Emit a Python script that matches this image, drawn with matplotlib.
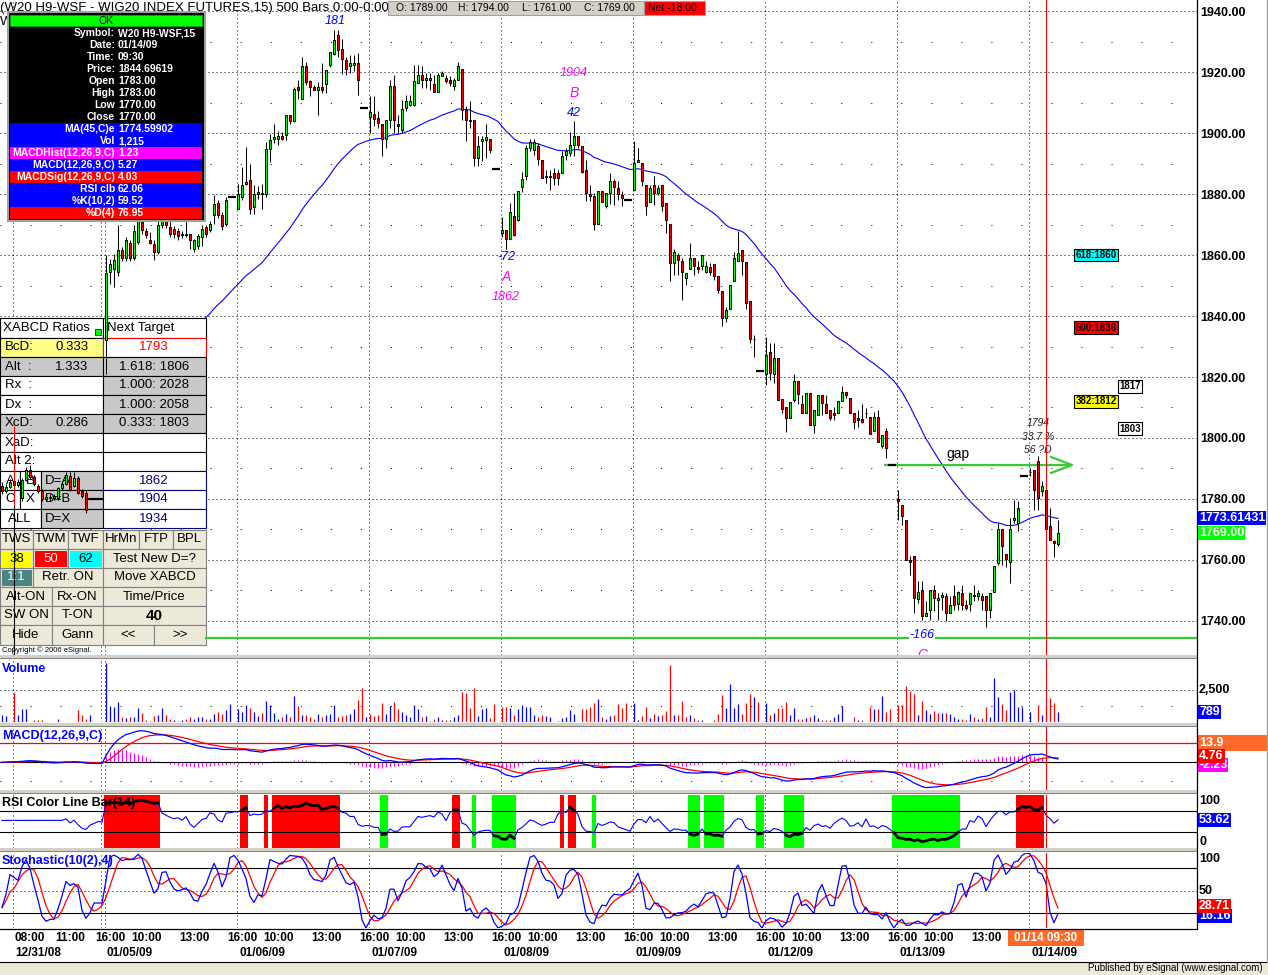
import numpy as np
import pandas as pd
import matplotlib
matplotlib.use("Agg")
import matplotlib.pyplot as plt
from matplotlib.patches import Rectangle
from matplotlib.lines import Line2D
from matplotlib.transforms import Affine2D, blended_transform_factory

plt.rcParams["font.family"] = ["Liberation Sans", "DejaVu Sans"]
plt.rcParams["lines.scale_dashes"] = False
plt.rcParams["axes.unicode_minus"] = False

# 15 minute bars of W20 H9 (WIG20 index futures), 12/31/08 .. 01/14/09
opens = [
    1784.3, 1782.6, 1784.0, 1786.0, 1784.5, 1780.3, 1786.3, 1789.6, 1787.2, 1784.3, 1782.6, 1780.0, 1780.8,
    1780.3, 1780.3, 1783.5, 1784.9, 1787.4, 1784.3, 1787.0, 1782.6, 1782.0, 1780, 1780, 1780, 1780,
    # 01/05
    1832.0, 1854.4, 1855.5, 1854.4, 1861.7, 1859.1, 1863.9, 1859.1, 1864.3, 1870.8, 1868.0, 1864.8, 1863.7,
    1861.0, 1870.0, 1872.0, 1869.2, 1868.6, 1868.0, 1866.4, 1867.0, 1866.8, 1862.1, 1862.8, 1865.9, 1869.2,
    1868.3, 1873.0, 1877.0, 1873.0, 1870.1, 1879, 1879,
    # 01/06
    1875.2, 1879.0, 1883.2, 1884.5, 1875.7, 1879.9, 1880.3, 1880.1, 1894.9, 1898.1, 1898.1, 1898.9, 1899.2,
    1905.8, 1903.9, 1915.1, 1911.3, 1921.9, 1916.9, 1915.1, 1914.2, 1915.1, 1916.2, 1922.2, 1926.0, 1932.0,
    1927.6, 1923.8, 1921.9, 1922.4, 1923.0, 1908.2, 1908.2,
    # 01/07
    1905.2, 1906.3, 1904.9, 1903.0, 1898.0, 1904.4, 1915.3, 1903.0, 1901.1, 1908.2, 1909.3, 1909.3, 1916.4,
    1919.1, 1917.5, 1918.0, 1916.2, 1913.4, 1918.8, 1918.0, 1917.3, 1915.3, 1917.3, 1921.0, 1907.7, 1904.4,
    1904.2, 1891.8, 1897.3, 1897.8, 1898.0, 1888.3, 1888.3,
    # 01/08
    1867.2, 1868.1, 1865.3, 1872.7, 1871.6, 1882.3, 1886.0, 1895.1, 1894.5, 1895.8, 1891.3, 1885.5, 1885.5,
    1886.9, 1886.9, 1886.9, 1892.9, 1893.4, 1896.2, 1898.9, 1895.8, 1888.0, 1880.0, 1879.2, 1870.3, 1881.1,
    1876.2, 1880.3, 1884.2, 1882.0, 1879.6, 1878.1, 1878.1,
    # 01/09
    1881.2, 1890.5, 1890.2, 1883.1, 1877.3, 1883.1, 1880.3, 1883.1, 1877.0, 1870.2, 1857.4, 1860.1, 1858.1,
    1852.5, 1855.4, 1859.0, 1856.1, 1856.3, 1854.3, 1856.0, 1857.0, 1853.2, 1848.3, 1839.3, 1842.3, 1851.4,
    1858.0, 1861.7, 1857.8, 1844.9, 1832.5, 1822.1, 1822.1,
    # 01/12
    1821.0, 1828.1, 1821.0, 1826.1, 1812.8, 1810.0, 1806.4, 1812.5, 1818.8, 1811.1, 1808.3, 1814.9, 1804.3,
    1807.5, 1814.1, 1811.1, 1809.1, 1808.3, 1808.3, 1812.1, 1815.0, 1813.0, 1808.3, 1806.4, 1806.2, 1808.3,
    1807.0, 1802.4, 1807.0, 1797.3, 1802.2, 1791.3, 1791.3,
    # 01/13
    1780.1, 1778.1, 1773.2, 1760.1, 1761.2, 1747.3, 1750.3, 1741.7, 1743.5, 1750.3, 1746.9, 1747.8, 1748.1,
    1742.6, 1748.1, 1745.7, 1749.2, 1745.4, 1745.7, 1748.6, 1748.1, 1748.1, 1748.1, 1743.5, 1749.4, 1759.0,
    1770.2, 1762.1, 1759.2, 1773.0, 1772.1, 1787.4, 1787.4,
    # 01/14
    1789.0, 1789.6, 1792.3, 1782.5, 1783.0, 1771.0, 1766.3, 1765.4,
]
highs = [
    1785.5, 1785.0, 1786.5, 1787.0, 1786.5, 1787.0, 1790.5, 1791.0, 1787.8, 1785.0, 1783.2, 1781.5, 1781.6,
    1781.5, 1784.0, 1785.8, 1789.0, 1788.8, 1789.0, 1787.6, 1783.2, 1782.8, 1780, 1780, 1780, 1780,
    1860.0, 1858.8, 1860.4, 1870.0, 1862.5, 1866.0, 1865.0, 1870.0, 1872.5, 1875.0, 1869.0, 1867.5, 1864.8,
    1871.4, 1874.0, 1874.0, 1871.0, 1869.5, 1869.0, 1868.0, 1871.4, 1867.0, 1865.3, 1867.0, 1869.7, 1870.0,
    1871.0, 1879.6, 1878.0, 1874.0, 1879.0, 1879, 1879,
    1883.4, 1888.9, 1895.4, 1890.0, 1882.8, 1882.6, 1883.4, 1897.0, 1899.8, 1902.8, 1900.8, 1900.3, 1905.8,
    1906.0, 1915.1, 1917.3, 1924.9, 1923.3, 1917.3, 1915.6, 1916.7, 1922.9, 1920.8, 1926.6, 1933.9, 1933.7,
    1930.9, 1924.9, 1925.7, 1925.7, 1926.2, 1908.2, 1908.2,
    1912.0, 1912.0, 1907.1, 1903.0, 1904.4, 1917.5, 1919.1, 1906.0, 1910.9, 1912.6, 1912.6, 1922.4, 1922.4,
    1921.9, 1919.7, 1919.7, 1919.1, 1919.7, 1920.2, 1919.1, 1918.6, 1918.0, 1923.2, 1921.0, 1908.7, 1910.4,
    1904.2, 1898.9, 1898.9, 1903.0, 1898.0, 1888.3, 1888.3,
    1872.4, 1868.1, 1877.1, 1880.3, 1880.9, 1887.1, 1896.2, 1898.1, 1898.1, 1896.7, 1891.3, 1888.0, 1888.0,
    1888.5, 1888.0, 1894.0, 1895.1, 1900.2, 1904.0, 1898.9, 1895.8, 1891.3, 1883.0, 1880.3, 1881.1, 1881.1,
    1880.3, 1886.9, 1884.9, 1884.2, 1880.9, 1878.1, 1878.1,
    1897.3, 1895.1, 1890.2, 1883.1, 1883.1, 1885.8, 1883.1, 1883.1, 1877.0, 1870.2, 1862.1, 1860.7, 1859.0,
    1854.1, 1863.9, 1859.0, 1857.9, 1859.9, 1858.0, 1857.5, 1857.0, 1853.2, 1848.3, 1843.0, 1850.3, 1861.0,
    1868.0, 1861.7, 1857.8, 1844.9, 1833.8, 1822.1, 1822.1,
    1833.2, 1831.3, 1831.0, 1826.1, 1812.8, 1810.0, 1811.9, 1821.0, 1818.8, 1814.1, 1814.9, 1814.9, 1809.1,
    1814.1, 1814.1, 1814.1, 1809.1, 1810.3, 1812.1, 1817.2, 1815.0, 1813.0, 1808.3, 1809.1, 1811.1, 1809.7,
    1807.0, 1808.6, 1809.2, 1801.1, 1803.3, 1791.3, 1791.3,
    1783.1, 1778.1, 1773.2, 1761.2, 1761.2, 1753.0, 1753.0, 1746.4, 1750.3, 1751.9, 1749.2, 1749.4, 1749.2,
    1748.3, 1751.9, 1749.7, 1751.9, 1747.0, 1749.2, 1751.9, 1750.3, 1749.2, 1748.1, 1749.2, 1758.1, 1772.1,
    1770.2, 1762.1, 1773.8, 1779.8, 1779.2, 1787.4, 1787.4,
    1790.0, 1789.6, 1794.0, 1785.8, 1783.0, 1777.0, 1766.7, 1773.2,
]
lows = [
    1781.5, 1782.0, 1783.5, 1783.5, 1783.8, 1779.5, 1785.8, 1786.5, 1784.3, 1782.0, 1779.5, 1779.2, 1779.5,
    1779.8, 1779.8, 1783.0, 1784.5, 1782.5, 1783.8, 1781.6, 1780.4, 1775.5, 1780, 1780, 1780, 1780,
    1821.0, 1850.6, 1849.5, 1853.0, 1858.0, 1858.0, 1858.0, 1858.5, 1863.5, 1867.0, 1865.5, 1863.5, 1858.3,
    1860.4, 1869.0, 1869.0, 1866.0, 1865.5, 1865.0, 1865.5, 1865.9, 1862.1, 1861.0, 1862.0, 1862.8, 1866.0,
    1867.5, 1870.1, 1872.0, 1868.3, 1869.5, 1879, 1879,
    1875.2, 1877.9, 1882.8, 1873.6, 1873.6, 1878.5, 1875.2, 1879.0, 1890.5, 1896.6, 1896.0, 1897.6, 1897.8,
    1903.0, 1903.5, 1911.3, 1911.3, 1915.6, 1912.0, 1914.0, 1905.8, 1913.1, 1913.1, 1921.6, 1925.5, 1925.0,
    1919.5, 1918.9, 1919.7, 1920.2, 1912.6, 1908.2, 1908.2,
    1900.0, 1902.2, 1901.6, 1892.3, 1895.1, 1901.6, 1900.0, 1900.0, 1900.0, 1907.1, 1908.7, 1908.7, 1916.4,
    1914.8, 1914.8, 1914.2, 1913.4, 1913.4, 1918.6, 1916.4, 1915.3, 1914.2, 1917.3, 1904.4, 1897.3, 1901.6,
    1889.3, 1889.3, 1890.7, 1891.8, 1893.4, 1888.3, 1888.3,
    1865.9, 1862.0, 1865.3, 1866.1, 1871.0, 1880.5, 1884.7, 1894.0, 1892.9, 1889.6, 1885.2, 1883.6, 1881.4,
    1883.1, 1883.1, 1886.9, 1891.3, 1892.3, 1892.3, 1895.1, 1886.9, 1877.8, 1877.6, 1868.3, 1870.3, 1877.3,
    1875.4, 1876.8, 1876.5, 1878.1, 1876.2, 1878.1, 1878.1,
    1881.2, 1890.5, 1882.5, 1873.2, 1877.3, 1876.5, 1879.8, 1874.3, 1867.2, 1851.4, 1853.6, 1853.6, 1845.1,
    1850.3, 1855.4, 1853.6, 1854.1, 1855.0, 1854.0, 1853.6, 1851.9, 1847.5, 1836.6, 1838.0, 1842.3, 1851.4,
    1858.0, 1853.5, 1842.2, 1831.3, 1826.4, 1822.1, 1822.1,
    1817.4, 1819.0, 1818.1, 1812.5, 1808.3, 1802.1, 1806.4, 1811.9, 1811.1, 1808.3, 1808.3, 1804.3, 1801.5,
    1807.5, 1807.5, 1808.3, 1805.8, 1805.8, 1808.3, 1812.1, 1813.0, 1808.3, 1802.8, 1803.6, 1804.8, 1806.4,
    1801.3, 1802.4, 1798.8, 1796.7, 1793.4, 1791.3, 1791.3,
    1773.2, 1771.6, 1760.1, 1755.2, 1742.6, 1745.9, 1740.4, 1741.5, 1740.4, 1743.2, 1740.4, 1743.7, 1739.9,
    1742.6, 1743.7, 1743.5, 1743.7, 1743.7, 1743.2, 1746.4, 1747.0, 1743.7, 1738.0, 1741.0, 1749.4, 1758.5,
    1758.5, 1757.6, 1752.5, 1772.1, 1769.4, 1787.4, 1787.4,
    1787.4, 1776.5, 1776.5, 1780.9, 1770.0, 1766.7, 1761.0, 1764.5,
]
closes = [
    1782.6, 1784.0, 1785.5, 1784.5, 1785.5, 1786.3, 1789.6, 1787.2, 1785.0, 1782.6, 1780.0, 1780.8, 1780.3,
    1780.9, 1783.5, 1785.0, 1788.0, 1783.0, 1787.0, 1782.0, 1781.0, 1776.5, 1780, 1780, 1780, 1780,
    1854.0, 1857.2, 1858.3, 1861.7, 1859.1, 1864.8, 1859.1, 1867.9, 1871.4, 1868.1, 1866.4, 1863.9, 1861.0,
    1869.7, 1871.5, 1870.0, 1867.0, 1867.0, 1866.1, 1867.0, 1866.4, 1864.8, 1864.8, 1866.1, 1868.6, 1867.0,
    1870.1, 1876.8, 1873.0, 1869.4, 1877.9, 1879, 1879,
    1880.1, 1882.8, 1883.9, 1875.2, 1879.9, 1880.7, 1879.9, 1894.9, 1897.6, 1898.7, 1898.9, 1898.1, 1905.8,
    1903.9, 1914.5, 1914.2, 1921.9, 1916.7, 1915.1, 1914.2, 1915.1, 1914.0, 1920.8, 1926.6, 1930.6, 1927.1,
    1924.4, 1921.1, 1923.0, 1923.0, 1917.3, 1908.2, 1908.2,
    1906.8, 1904.7, 1903.3, 1898.0, 1904.4, 1915.3, 1904.4, 1902.2, 1907.9, 1910.4, 1910.4, 1917.2, 1919.1,
    1917.5, 1918.0, 1917.3, 1913.4, 1919.1, 1919.7, 1916.9, 1916.4, 1917.3, 1922.1, 1907.7, 1904.4, 1903.8,
    1891.8, 1895.8, 1898.1, 1898.6, 1894.5, 1888.3, 1888.3,
    1868.1, 1865.3, 1874.0, 1866.7, 1880.9, 1884.9, 1895.1, 1896.9, 1896.9, 1891.5, 1885.2, 1886.0, 1886.0,
    1885.2, 1885.2, 1892.3, 1894.0, 1896.2, 1898.9, 1896.2, 1887.1, 1880.3, 1879.2, 1870.3, 1881.1, 1877.3,
    1880.3, 1884.2, 1882.3, 1880.1, 1878.7, 1878.1, 1878.1,
    1890.2, 1891.3, 1884.2, 1876.2, 1882.0, 1880.3, 1882.0, 1876.2, 1871.6, 1857.4, 1861.0, 1858.5, 1854.3,
    1854.1, 1859.0, 1856.3, 1855.4, 1859.9, 1856.3, 1854.5, 1853.2, 1848.4, 1839.3, 1842.1, 1850.3, 1859.0,
    1860.5, 1858.0, 1844.2, 1832.5, 1832.5, 1822.1, 1822.1,
    1827.2, 1821.2, 1826.1, 1812.5, 1809.4, 1806.4, 1811.9, 1818.8, 1814.4, 1808.3, 1814.9, 1804.3, 1809.1,
    1814.1, 1811.6, 1808.3, 1806.4, 1807.5, 1812.1, 1815.0, 1814.1, 1808.3, 1805.4, 1805.9, 1805.3, 1808.3,
    1801.3, 1807.0, 1798.8, 1801.1, 1796.7, 1791.3, 1791.3,
    1779.2, 1774.3, 1760.1, 1759.2, 1747.5, 1749.4, 1741.5, 1742.6, 1750.3, 1747.5, 1747.4, 1748.5, 1742.6,
    1745.4, 1745.4, 1749.4, 1745.4, 1744.3, 1749.2, 1748.1, 1749.2, 1747.0, 1743.5, 1749.2, 1758.1, 1770.2,
    1764.5, 1760.3, 1770.2, 1773.8, 1777.0, 1787.4, 1787.4,
    1789.0, 1783.1, 1780.3, 1784.4, 1770.0, 1766.7, 1765.6, 1769.0,
]
volume = [
    526, 447, 0, 2236, 526, 1052, 1052, 0, 131, 131, 131, 0, 0, 0, 210, 0, 0, 0, 0, 920, 526, 263, 526, 0, 0, 0,
    4600, 1262, 1183, 1578, 394, 315, 394, 394, 1105, 736, 131, 60, 447, 578, 1105, 526, 263, 131, 60, 131,
    210, 394, 263, 394, 394, 210, 263, 657, 789, 657, 920, 1368, 0,
    1052, 789, 1315, 1105, 789, 473, 736, 1657, 1315, 736, 263, 394, 657, 394, 2025, 1262, 526, 526, 394, 210,
    657, 394, 578, 657, 1315, 394, 447, 526, 657, 1052, 1710, 2683, 394,
    657, 473, 578, 1447, 657, 1262, 1578, 1052, 789, 526, 394, 1315, 1052, 394, 447, 60, 263, 394, 131, 131,
    131, 394, 578, 2367, 2236, 1105, 2683, 447, 1052, 1105, 315, 1368, 0,
    1183, 1183, 1105, 578, 999, 1315, 1183, 1183, 578, 394, 526, 473, 394, 0, 53, 315, 394, 920, 657, 0,
    999, 999, 1183, 1447, 1788, 394, 263, 473, 578, 1368, 1105, 1447, 0,
    1447, 131, 473, 1183, 315, 657, 473, 578, 841, 4471, 578, 578, 1630, 394, 526, 315, 131, 131, 0, 0,
    131, 657, 2104, 1105, 2946, 1105, 1368, 657, 1447, 2157, 1973, 1578, 0,
    1447, 526, 736, 1105, 1105, 1525, 526, 1105, 263, 263, 315, 394, 526, 315, 131, 131, 131, 394, 657, 1262,
    0, 0, 394, 131, 131, 0, 1183, 1052, 999, 2051, 789, 1052, 0,
    1315, 1315, 2841, 2420, 2157, 526, 1630, 920, 657, 841, 736, 736, 736, 657, 394, 263, 210, 131, 657, 394,
    263, 315, 1183, 394, 3472, 1973, 1368, 920, 2367, 2499, 1183, 1183, 0,
    789, 0, 1315, 578, 1215, 1841, 1447, 789,
]

day_start = [26, 59, 92, 125, 158, 191, 224, 257]
day_names = ["01/05/09", "01/06/09", "01/07/09", "01/08/09", "01/09/09", "01/12/09", "01/13/09", "01/14/09"]
price_ticks = [1740, 1760, 1780, 1800, 1820, 1840, 1860, 1880, 1900, 1920, 1940]
cursor_bar = 261
gap_price = 1791.3
low_line = 1734.3
spike = [1804.0, 1778.0, 1729.0]   # stray line on 12/31

# ---------------- indicators
c = pd.Series(closes, dtype=float)
ema45 = c.ewm(span=45, adjust=False).mean()
macd = c.ewm(span=12, adjust=False).mean() - c.ewm(span=26, adjust=False).mean()
signal = macd.ewm(span=9, adjust=False).mean()
hist = macd - signal
# RSI with simple averages (matches the 62.06 shown in the data window)
chg = c.diff()
gain = chg.clip(lower=0).rolling(14).mean()
loss = (-chg).clip(lower=0).rolling(14).mean()
rsi = (100 * gain / (gain + loss)).bfill()
rsi_full = np.arange(len(c)) >= 14
lo10 = pd.Series(lows).rolling(10, min_periods=1).min()
hi10 = pd.Series(highs).rolling(10, min_periods=1).max()
raw_k = (100 * (c - lo10) / (hi10 - lo10).replace(0, np.nan)).fillna(50)
pct_k = raw_k.rolling(2, min_periods=1).mean()
pct_d = pct_k.rolling(4, min_periods=1).mean()

o = np.array(opens); h = np.array(highs); l = np.array(lows); cl = np.array(closes)
v = np.array(volume)
x = np.arange(len(cl))

# ---------------- layout
W, H = 1268, 975
XR = 1197
fig = plt.figure(figsize=(W / 100, H / 100), dpi=100)
pix = Affine2D().scale(1, -1).translate(0, H)
DENSE = (0, (0.72, 2.16))
SPARSE = (0, (0.72, 20.9))


def panel(y0, y1):
    a = fig.add_axes([0, 1 - y1 / H, XR / W, (y1 - y0) / H])
    a.set_xlim(-0.5, (XR - 2) / 4)
    for s in a.spines.values():
        s.set_visible(False)
    a.set_xticks([])
    a.set_yticks([])
    a.tick_params(length=0)
    for d in [3, 25] + day_start:
        a.axvline(d - 0.375, color="black", lw=0.72, ls=DENSE, zorder=1)
    a.axvline(cursor_bar, color="red", lw=0.8, zorder=8)
    return a


ax = panel(0, 655)
axv = panel(658, 722)
axm = panel(727, 790)
axr = panel(795, 848)
axs = panel(853, 928)

# ---------------- price panel
ax.set_ylim(1728.85, 1943.61)
ax.yaxis.tick_right()
ax.set_yticks(price_ticks)
ax.set_yticklabels([f"{p:.2f}" for p in price_ticks], fontsize=9, fontweight="bold")
ax.tick_params(axis="y", length=0, pad=2)
for p in price_ticks:
    ax.axhline(p, color="black", lw=0.72, ls=DENSE, zorder=1)
    ax.axhline(p + 10, color="black", lw=0.72, ls=SPARSE, zorder=1)

ax.plot(x, ema45, color="#0000FF", lw=0.8, zorder=2)

ax.vlines(x, l, h, color="black", lw=0.72, zorder=5)
body_col = np.where(cl > o, "#00FF00", np.where(cl < o, "#FF0000", "black"))
ax.bar(x, np.abs(cl - o), bottom=np.minimum(o, cl), width=0.68, color=body_col,
       edgecolor="black", linewidth=0.7, zorder=6)
flat = (h == l)
ax.hlines(cl[flat], x[flat] - 0.38, x[flat] + 0.38, color="black", lw=1.6, zorder=6)
ax.vlines(3, spike[1], spike[0], color="red", lw=0.8, zorder=6)
ax.vlines(3, spike[2], spike[1], color="black", lw=0.8, zorder=6)

# gap and low lines
ax.hlines(gap_price, 220.5, 267, color="#33CC33", lw=1.6, zorder=4)
ax.add_line(Line2D([1051, 1072, 1051], [457, 465, 473], transform=pix, color="#33CC33", lw=1.6, zorder=4))
ax.hlines(low_line, 50.75, 300, color="#33CC33", lw=1.6, zorder=4)


def ptext(a, xp, yp, s, size=9, color="black", ha="left", weight="normal", style="normal", z=7, **kw):
    a.text(xp, yp, s, transform=pix, fontsize=size, color=color, ha=ha, va="center",
           fontweight=weight, fontstyle=style, zorder=z, **kw)


ptext(ax, 958, 454, "gap", size=10, ha="center")
ptext(ax, 335, 21, "181", color="#0000FF", ha="center", style="italic")
ptext(ax, 574, 73, "1904", color="#FF00FF", ha="center", style="italic")
ptext(ax, 574, 93, "B", color="#FF00FF", ha="center", style="italic", size=10)
ptext(ax, 574, 113, "42", color="#0000FF", ha="center", style="italic")
ptext(ax, 506, 257, "-72", color="#0000FF", ha="center", style="italic")
ptext(ax, 506, 277, "A", color="#FF00FF", ha="center", style="italic", size=10)
ptext(ax, 506, 297, "1862", color="#FF00FF", ha="center", style="italic")
ptext(ax, 922, 635, "-166", color="#0000FF", ha="center", style="italic",
      bbox=dict(boxstyle="square,pad=0.05", fc="white", ec="none"))
ptext(ax, 922, 655, "C", color="#FF00FF", ha="center", style="italic", size=10)
ptext(ax, 1038, 423, "1794", size=7.5, ha="center", style="italic", color="#202020")
ptext(ax, 1038, 437, "33.7 %", size=7.5, ha="center", style="italic", color="#202020")
ptext(ax, 1038, 450, "56 ?D", size=7.5, ha="center", style="italic", color="#202020")

px_price = blended_transform_factory(pix, ax.transData)
for xc, val, s, fc in [(1096, 1860, "618:1860", "#00FFFF"), (1096, 1836.1, "500:1836", "#FF0000"),
                       (1096, 1812.1, "382:1812", "#FFFF00"), (1130, 1817, "1817", "white"),
                       (1130, 1803, "1803", "white")]:
    ax.text(xc, val, s, transform=px_price, fontsize=7, fontweight="bold", ha="center", va="center",
            zorder=7, bbox=dict(boxstyle="square,pad=0.15", fc=fc, ec="black", lw=0.8))


# ---------------- overlay boxes (pixel coordinates)
def cell(a, x0, y0, x1, y1, fc, ec="black", lw=0.8, z=3):
    a.add_patch(Rectangle((x0, y0), x1 - x0, y1 - y0, transform=pix, facecolor=fc,
                          edgecolor=ec, linewidth=lw, zorder=z))


# header
ptext(ax, 0, 8, "(W20 H9-WSF - WIG20 INDEX FUTURES,15) 500 Bars,0:00-0:00", size=9.5, z=11)
ptext(ax, 0, 22, "W", size=9.5, z=9)
cell(ax, 388, 1, 644, 15, "#D4D0C8", ec="#A0A0A0", z=11)
for xp, s in [(396, "O: 1789.00"), (458, "H: 1794.00"), (522, "L: 1761.00"), (584, "C: 1769.00")]:
    ptext(ax, xp, 8, s, size=7.5, z=12)
cell(ax, 644, 1, 705, 15, "#FF0000", ec="#A0A0A0", z=11)
ptext(ax, 648, 8, "Net -18.00", size=7.5, z=12)

# data window
cell(ax, 8, 12, 205, 221, "black", ec="#A0A0A0", lw=1.5, z=10)
cell(ax, 10, 15, 202, 26, "#00FF00", ec="#00B000", lw=0.5, z=10.1)
ptext(ax, 106, 20.5, "OK", size=7.5, ha="center", z=10.3)
dw_rows = [("Symbol:", "W20 H9-WSF,15", "black"), ("Date:", "01/14/09", "black"),
           ("Time:", "09:30", "black"), ("Price:", "1844.69619", "black"),
           ("Open", "1783.00", "black"), ("High", "1783.00", "black"),
           ("Low", "1770.00", "black"), ("Close", "1770.00", "black"),
           ("MA(45,C)e", "1774.59902", "#0000FF"), ("Vol", "1,215", "#0000FF"),
           ("MACDHist(12,26,9,C)", "1.23", "#FF00FF"), ("MACD(12,26,9,C)", "5.27", "#0000FF"),
           ("MACDSig(12,26,9,C)", "4.03", "#FF0000"), ("RSI clb", "62.06", "#0000FF"),
           ("%K(10,2)", "59.52", "#0000FF"), ("%D(4)", "76.95", "#FF0000")]
for k, (lab, val, bg) in enumerate(dw_rows):
    yc = 33 + 12 * k
    if bg != "black":
        cell(ax, 10, yc - 6, 202, yc + 6, bg, ec="none", lw=0, z=10.1)
    ptext(ax, 115, yc, lab, size=7.5, color="white", ha="right", weight="bold", z=10.3)
    ptext(ax, 118, yc, val, size=7.5, color="white", weight="bold", z=10.3)

# XABCD table
GRAY = "#C8C8C8"
rows_y = [318, 338, 357, 376, 395, 414, 433, 452, 471, 490, 509, 528]
cell(ax, 0, 318, 103, 338, "white")
cell(ax, 103, 318, 206, 338, "white")
ptext(ax, 3, 328, "XABCD Ratios", size=9.5, z=3.5)
cell(ax, 95, 329, 101, 335, "#00FF00", ec="black", lw=0.5, z=3.2)
ptext(ax, 107, 328, "Next Target", size=9.5, z=3.5)
table_rows = [("BcD:", "0.333", "#FFFF88", "1793", "white"), ("Alt  :", "1.333", GRAY, "1.618: 1806", GRAY),
              ("Rx  :", "", "white", "1.000: 2028", GRAY), ("Dx  :", "", "white", "1.000: 2058", GRAY),
              ("XcD:", "0.286", GRAY, "0.333: 1803", GRAY), ("XaD:", "", "white", "", "white"),
              ("Alt 2:", "", "white", "", "white")]
for k, (lab, val, lc, right, rc) in enumerate(table_rows):
    y0, y1 = rows_y[k + 1], rows_y[k + 2]
    cell(ax, 0, y0, 103, y1, lc)
    cell(ax, 103, y0, 206, y1, rc, ec="red" if k == 0 else "black")
    ptext(ax, 5, (y0 + y1) / 2, lab, size=9.5, z=3.5)
    ptext(ax, 55, (y0 + y1) / 2, val, size=9.5, z=3.5)
    ptext(ax, 154, (y0 + y1) / 2, right, size=9.5, ha="center", color="red" if k == 0 else "black", z=3.5)
pattern_rows = [(["A", "B"], "D=A", "1862"), (["C", "X"], "D=B", "1904"), (["ALL"], "D=X", "1934")]
for k, (keys, lab, val) in enumerate(pattern_rows):
    y0, y1 = rows_y[k + 8], rows_y[k + 9]
    yc = (y0 + y1) / 2
    if len(keys) == 2:
        cell(ax, 0, y0, 20, y1, "white")
        cell(ax, 20, y0, 41, y1, "white")
        ptext(ax, 10, yc, keys[0], size=9.5, ha="center", z=3.5)
        ptext(ax, 30, yc, keys[1], size=9.5, ha="center", z=3.5)
    else:
        cell(ax, 0, y0, 41, y1, "white")
        ptext(ax, 20, yc, keys[0], size=9.5, ha="center", z=3.5)
    cell(ax, 41, y0, 103, y1, GRAY)
    ptext(ax, 45, yc, lab, size=9.5, z=3.5)
    cell(ax, 103, y0, 206, y1, "white", ec="#000080")
    ptext(ax, 154, yc, val, size=9.5, ha="center", color="#000080", z=3.5)

buttons = [
    (530, 549, [(0, 33, "TWS", None, "black"), (33, 68, "TWM", None, "black"), (68, 103, "TWF", None, "black"),
                (103, 139, "HrMn", None, "black"), (139, 173, "FTP", None, "black"), (173, 206, "BPL", None, "black")]),
    (549, 568, [(0, 33, "38", "#FFFF00", "black"), (33, 68, "50", "#FF0000", "white"),
                (68, 103, "62", "#00FFFF", "black"), (103, 206, "Test New D=?", None, "black")]),
    (568, 587, [(0, 33, "1:1", "#4A8486", "white"), (33, 103, "Retr. ON", None, "black"),
                (103, 206, "Move XABCD", None, "black")]),
    (587, 606, [(0, 52, "Alt-ON", None, "black"), (52, 103, "Rx-ON", None, "black"),
                (103, 206, "Time/Price", None, "black")]),
    (606, 625, [(0, 52, "SW ON", None, "black"), (52, 103, "T-ON", None, "black"),
                (103, 206, "40", None, "black")]),
    (625, 645, [(0, 52, "Hide", None, "black"), (52, 103, "Gann", None, "black"),
                (103, 154, "<<", None, "black"), (154, 206, ">>", None, "black")]),
]
for y0, y1, items in buttons:
    for x0, x1, s, fill, tc in items:
        cell(ax, x0, y0, x1, y1, "#ECE9D8", ec="#808080")
        if fill:
            cell(ax, x0 + 1.5, y0 + 1.5, x1 - 1.5, y1 - 1.5, fill, ec="none", lw=0)
        bold = s == "40"
        ptext(ax, (x0 + x1) / 2, (y0 + y1) / 2, s, size=11 if bold else 9.5, ha="center",
              color=tc, weight="bold" if bold else "normal", z=3.5)
ptext(ax, 2, 650, "Copyright \u00a9 2006 eSignal.", size=5.5, z=3.5)

# ---------------- volume
axv.set_ylim(0, 5000)
vcol = np.where(np.r_[0, np.diff(cl)] >= 0, "#0000FF", "#FF0000")
axv.vlines(x, 0, v, colors=vcol, lw=0.9, zorder=3)
axv.axhline(2500, color="black", lw=0.72, ls=DENSE, zorder=1)
axv.axhline(1250, color="black", lw=0.72, ls=SPARSE, zorder=1)

# ---------------- MACD
axm.set_ylim(-20.26, 25.83)
axm.vlines(x, 0, hist, color="#FF00FF", lw=0.8, zorder=2)
axm.axhline(0, color="black", lw=0.8, zorder=2)
axm.axhline(13.9, color="red", lw=0.9, zorder=2)
axm.axhline(-13.9, color="black", lw=0.72, ls=SPARSE, zorder=1)
axm.plot(x, signal, color="red", lw=0.9, zorder=3)
axm.plot(x, macd, color="#0000FF", lw=0.9, zorder=4)

# ---------------- RSI color line bar
axr.set_ylim(0, 100)
hot = (rsi > 70).values & rsi_full
cold = (rsi < 30).values & rsi_full
axr.bar(x[hot], 100, width=1.0, color="#FF0000", zorder=2)
axr.bar(x[cold], 100, width=1.0, color="#00FF00", zorder=2)
axr.axhline(70, color="black", lw=0.8, zorder=3)
axr.axhline(30, color="black", lw=0.8, zorder=3)
axr.plot(x, rsi, color="#0000FF", lw=0.8, zorder=4)
axr.plot(x, np.where(hot | cold, rsi, np.nan), color="black", lw=2.0, zorder=5)

# ---------------- Stochastic
axs.set_ylim(0, 100)
axs.axhline(80, color="black", lw=0.8, zorder=2)
axs.axhline(20, color="black", lw=0.8, zorder=2)
axs.axhline(50, color="black", lw=0.72, ls=DENSE, zorder=1)
axs.plot(x, pct_d, color="red", lw=0.9, zorder=3)
axs.plot(x, pct_k, color="#0000FF", lw=0.9, zorder=4)

# ---------------- panel titles and right-hand labels
for yp, s, col in [(669, "Volume", "#0000FF"), (736, "MACD(12,26,9,C)", "#0000FF"),
                   (803, "RSI Color Line Bar(14)", "black"), (861, "Stochastic(10(2),4)", "#0000FF")]:
    fig.text(2, yp, s, transform=pix, fontsize=9, fontweight="bold", color=col, va="center")


def rlabel(a, val, s, fc=None, tc="black", va="center"):
    kw = {}
    if fc:
        kw["bbox"] = dict(boxstyle="square,pad=0.08", fc=fc, ec="none")
        tc = "white"
    fig.text(1199, val, s, transform=blended_transform_factory(pix, a.transData), fontsize=9,
             fontweight="bold", color=tc, va=va, ha="left", **kw)


rlabel(ax, 1773.61431, "1773.61431", fc="#0000FF")
rlabel(ax, closes[-1], "1769.00", fc="#00FF00")
rlabel(axv, 2500, "2,500")
rlabel(axv, volume[-1], "789", fc="#0000FF")
fig.add_artist(Rectangle((XR, 735), W - XR, 16, transform=pix, fc="#FF6A28", ec="none"))
fig.text(1199, 743, "13.9", transform=pix, fontsize=9, fontweight="bold", color="white", va="center")
rlabel(axm, -2.23, "-2.23", fc="#FF00FF")
rlabel(axm, 4.76, "4.76", fc="#FF0000")
rlabel(axr, 100, "100", va="top")
rlabel(axr, 53.62, "53.62", fc="#0000FF")
rlabel(axr, 0, "0", va="bottom")
rlabel(axs, 100, "100", va="top")
rlabel(axs, 50, "50")
rlabel(axs, 16.16, "16.16", fc="#0000FF")
rlabel(axs, 28.71, "28.71", fc="#FF0000")

# ---------------- time axis
tx = blended_transform_factory(axs.transData, pix)
ticks = [(7, "08:00"), (17, "11:00")]
for d in day_start[:-1]:
    ticks += [(d + 1, "16:00"), (d + 10, "10:00"), (d + 22, "13:00")]
for b, s in ticks:
    fig.text(b, 938, s, transform=tx, fontsize=8.5, fontweight="bold", ha="center", va="center")
for b, s in [(9, "12/31/08")] + [(d + 6, nm) for d, nm in zip(day_start, day_names)]:
    fig.text(b, 953, s, transform=tx, fontsize=8.5, fontweight="bold", ha="center", va="center")
fig.add_artist(Rectangle((1008, 930), 76, 16, transform=pix, fc="#FF6A28", ec="none"))
fig.text(cursor_bar, 938, "01/14 09:30", transform=tx, fontsize=8.5, fontweight="bold",
         color="white", ha="center", va="center")

# ---------------- frame pieces
for y0 in [655, 723, 790, 848]:
    fig.add_artist(Rectangle((0, y0), XR, 3, transform=pix, fc="#D4D0C8", ec="none"))
    fig.add_artist(Line2D([0, XR], [y0 + 2.5, y0 + 2.5], transform=pix, color="#808080", lw=0.7))
fig.add_artist(Line2D([XR, XR], [0, 929], transform=pix, color="black", lw=0.9))
fig.add_artist(Line2D([0, XR], [929, 929], transform=pix, color="black", lw=0.9))
fig.add_artist(Rectangle((0, 962), W, 13, transform=pix, fc="#ECE9D8", ec="none"))
fig.add_artist(Line2D([0, W], [961.5, 961.5], transform=pix, color="black", lw=0.8))
fig.add_artist(Line2D([W - 1.5, W - 1.5], [0, 962], transform=pix, color="#A0A0A0", lw=1.0))
fig.text(1263, 968, "Published by eSignal (www.esignal.com)", transform=pix, fontsize=7,
         ha="right", va="center")

fig.savefig("out.png", dpi=100)
